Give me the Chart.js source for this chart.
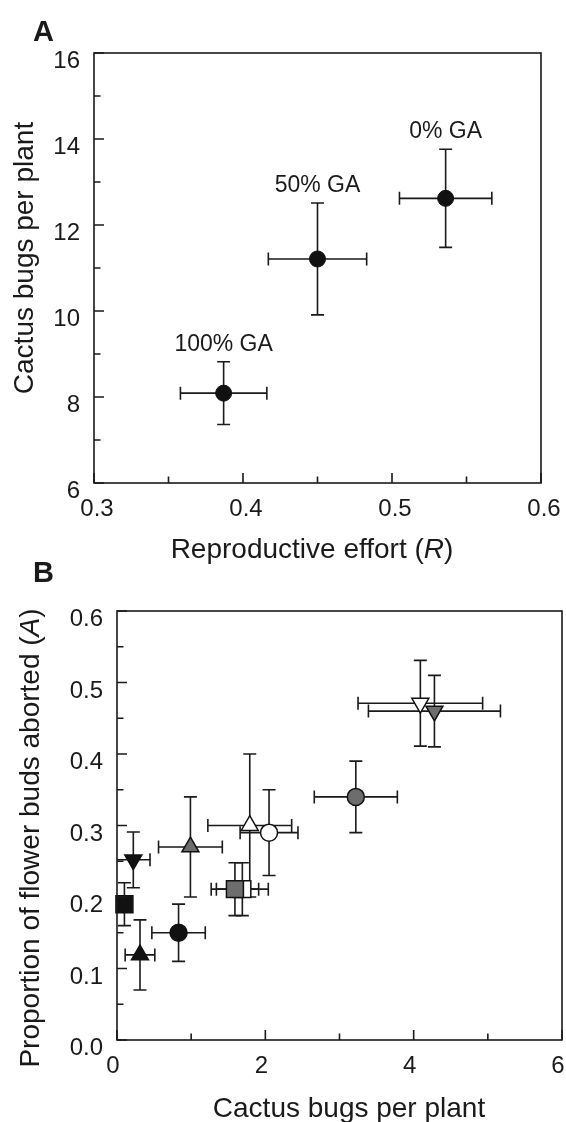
<!DOCTYPE html>
<html>
<head>
<meta charset="utf-8">
<script src="https://cdn.jsdelivr.net/npm/chart.js@4.4.1/dist/chart.umd.min.js"></script>
<style>
body{margin:0;background:#fff;}
canvas{position:absolute;left:0;}
#chartA{top:0;}
#chartB{top:560px;}
</style>
</head>
<body>
<canvas id="chartA" width="566" height="580"></canvas>
<canvas id="chartB" width="566" height="562"></canvas>
<script>
// ---- panel A data ----
const treatments=["0% GA","50% GA","100% GA"];
const effortR=[0.536,0.450,0.387];
const effortErr=[0.031,0.033,0.029];
const bugsA=[12.62,11.21,8.09];
const bugsAErr=[1.14,1.30,0.73];
const xTicksA=[0.3,0.4,0.5,0.6];
const xMinorA=[0.35,0.45,0.55];
const yTicksA=[6,8,10,12,14,16];
const yMinorA=[7,9,11,13,15];

// ---- panel B data ----
// first listed = drawn on top
const groups=["openDown","grayDown","grayCircle","openUp","openCircle","grayUp","graySquare","openSquare","blackDown","blackSquare","blackCircle","blackUp"];
const bugsB=[4.09,4.28,3.22,1.79,2.05,0.99,1.59,1.69,0.22,0.10,0.83,0.31];
const bugsBErr=[0.84,0.89,0.56,0.565,0.39,0.43,0.32,0.35,0.225,0,0.36,0.20];
const abortedB=[0.471,0.460,0.340,0.300,0.290,0.270,0.211,0.211,0.252,0.190,0.150,0.119];
const abortedErr=[0.060,0.050,0.050,0.100,0.060,0.070,0.037,0.037,0.039,0.030,0.040,0.049];
const xTicksB=[0,2,4,6];
const xMinorB=[1,3,5];
const yTicksB=[0,0.1,0.2,0.3,0.4,0.5,0.6];
const yMinorB=[0.05,0.15,0.25,0.35,0.45,0.55];

// marker looks for panel B
const BLACK="#111",GRAY="#6d6d6d",WHITE="#fff";
const markStyle={
openDown:["triangle",180,WHITE],
grayDown:["triangle",180,GRAY],
grayCircle:["circle",0,GRAY],
openUp:["triangle",0,WHITE],
openCircle:["circle",0,WHITE],
grayUp:["triangle",0,GRAY],
openSquare:["rect",0,WHITE],
graySquare:["rect",0,GRAY],
blackDown:["triangle",180,BLACK],
blackSquare:["rect",0,BLACK],
blackCircle:["circle",0,BLACK],
blackUp:["triangle",0,BLACK]
};
const markRadius={circle:8.5,triangle:9.8,rect:12};

const FONT='"Liberation Sans", Arial, Helvetica, sans-serif';
const INK="#1a1a1a";

function richText(ctx,parts,x,y,size,rot){
ctx.save();
ctx.translate(x,y);
ctx.rotate(rot);
ctx.textBaseline="alphabetic";
ctx.fillStyle=INK;
let total=0;
parts.forEach(p=>{ctx.font=(p.it?"italic ":"")+size+"px "+FONT;total+=ctx.measureText(p.t).width;});
let cx=-total/2;
parts.forEach(p=>{
ctx.font=(p.it?"italic ":"")+size+"px "+FONT;
ctx.textAlign="left";
ctx.fillText(p.t,cx,0);
cx+=ctx.measureText(p.t).width;
});
ctx.restore();
}

const framePlugin={
id:"frame",
beforeDatasetsDraw(chart,args,o){
const {ctx,scales:{x,y}}=chart;
ctx.save();
ctx.strokeStyle=INK;
ctx.lineWidth=1.6;
chart.data.datasets.forEach(ds=>{
ds.data.forEach(p=>{
const px=x.getPixelForValue(p.x),py=y.getPixelForValue(p.y);
const cap=6.5;
if(p.yErr){
const t=y.getPixelForValue(p.y+p.yErr),b=y.getPixelForValue(p.y-p.yErr);
ctx.beginPath();
ctx.moveTo(px,t);ctx.lineTo(px,b);
ctx.moveTo(px-cap,t);ctx.lineTo(px+cap,t);
ctx.moveTo(px-cap,b);ctx.lineTo(px+cap,b);
ctx.stroke();
}
if(p.xErr){
const l=x.getPixelForValue(Math.max(x.min,p.x-p.xErr)),r=x.getPixelForValue(p.x+p.xErr);
ctx.beginPath();
ctx.moveTo(l,py);ctx.lineTo(r,py);
if(p.x-p.xErr>x.min){ctx.moveTo(l,py-cap);ctx.lineTo(l,py+cap);}
ctx.moveTo(r,py-cap);ctx.lineTo(r,py+cap);
ctx.stroke();
}
});
});
ctx.restore();
},
afterDraw(chart,args,o){
const {ctx,chartArea:a,scales:{x,y}}=chart;
ctx.save();
ctx.strokeStyle=INK;
ctx.lineWidth=1.6;
ctx.strokeRect(a.left,a.top,a.right-a.left,a.bottom-a.top);
ctx.beginPath();
o.majorX.forEach(v=>{const p=x.getPixelForValue(v);ctx.moveTo(p,a.bottom);ctx.lineTo(p,a.bottom-10);});
o.minorX.forEach(v=>{const p=x.getPixelForValue(v);ctx.moveTo(p,a.bottom);ctx.lineTo(p,a.bottom-6.5);});
o.majorY.forEach(v=>{const p=y.getPixelForValue(v);ctx.moveTo(a.left,p);ctx.lineTo(a.left+10,p);});
o.minorY.forEach(v=>{const p=y.getPixelForValue(v);ctx.moveTo(a.left,p);ctx.lineTo(a.left+6.5,p);});
ctx.stroke();
// panel letter
ctx.fillStyle=INK;
ctx.font="bold 29px "+FONT;
ctx.textAlign="left";
ctx.textBaseline="alphabetic";
ctx.fillText(o.letter,o.letterPos[0],o.letterPos[1]);
ctx.restore();
richText(ctx,o.xTitle,o.xTitlePos[0],o.xTitlePos[1],28,0);
richText(ctx,o.yTitle,o.yTitlePos[0],o.yTitlePos[1],28,-Math.PI/2);
// point labels
if(o.pointLabels){
ctx.save();
ctx.fillStyle=INK;
ctx.font="23px "+FONT;
ctx.textAlign="center";
ctx.textBaseline="alphabetic";
chart.data.datasets[0].data.forEach((p,i)=>{
ctx.fillText(o.pointLabels[i],x.getPixelForValue(p.x),y.getPixelForValue(p.y+p.yErr)-11);
});
ctx.restore();
}
}
};

function axisX(min,max,ticks,fmt,h,shift){
return {
type:"linear",min:min,max:max,
grid:{display:false,drawTicks:false},
border:{display:false},
ticks:{padding:12,labelOffset:shift,color:INK,font:{family:FONT,size:24},callback:v=>fmt(v)},
afterBuildTicks:s=>{s.ticks=ticks.map(v=>({value:v}));},
afterFit:s=>{s.height=h;s.paddingLeft=0;s.paddingRight=0;}
};
}
function axisY(min,max,ticks,fmt,w){
return {
type:"linear",min:min,max:max,
grid:{display:false,drawTicks:false},
border:{display:false},
ticks:{padding:14,labelOffset:8.5,color:INK,font:{family:FONT,size:24},callback:v=>fmt(v)},
afterBuildTicks:s=>{s.ticks=ticks.map(v=>({value:v}));},
afterFit:s=>{s.width=w;s.paddingTop=0;s.paddingBottom=0;}
};
}

// ---- panel A ----
new Chart(document.getElementById("chartA"),{
type:"scatter",
data:{
datasets:[{
data:effortR.map((v,i)=>({x:v,y:bugsA[i],xErr:effortErr[i],yErr:bugsAErr[i]})),
pointStyle:"circle",
pointRadius:8,
backgroundColor:BLACK,
borderColor:BLACK,
borderWidth:1,
clip:false
}]
},
options:{
responsive:false,
animation:false,
events:[],
layout:{autoPadding:false,padding:{left:0,top:53,right:25,bottom:0}},
plugins:{
legend:{display:false},
tooltip:{enabled:false},
frame:{
majorX:xTicksA,minorX:xMinorA,majorY:yTicksA,minorY:yMinorA,
letter:"A",letterPos:[33,41],
xTitle:[{t:"Reproductive effort ("},{t:"R",it:true},{t:")"}],xTitlePos:[312,558],
yTitle:[{t:"Cactus bugs per plant"}],yTitlePos:[33,258],
pointLabels:treatments
}
},
scales:{
x:axisX(0.3,0.6,xTicksA,v=>v.toFixed(1),97,3),
y:axisY(6,16,yTicksA,v=>String(v),94)
}
},
plugins:[framePlugin]
});

// ---- panel B ----
new Chart(document.getElementById("chartB"),{
type:"scatter",
data:{
datasets:groups.map((g,i)=>{
const st=markStyle[g];
return {
label:g,
data:[{x:bugsB[i],y:abortedB[i],xErr:bugsBErr[i],yErr:abortedErr[i]}],
pointStyle:st[0],
rotation:st[1],
pointRadius:markRadius[st[0]],
backgroundColor:st[2],
borderColor:BLACK,
borderWidth:1.5,
clip:false
};
})
},
options:{
responsive:false,
animation:false,
events:[],
layout:{autoPadding:false,padding:{left:0,top:51,right:4,bottom:0}},
plugins:{
legend:{display:false},
tooltip:{enabled:false},
frame:{
majorX:xTicksB,minorX:xMinorB,majorY:yTicksB,minorY:yMinorB,
letter:"B",letterPos:[33,22],
xTitle:[{t:"Cactus bugs per plant"}],xTitlePos:[349,557],
yTitle:[{t:"Proportion of flower buds aborted ("},{t:"A",it:true},{t:")"}],yTitlePos:[39,278]
}
},
scales:{
x:axisX(0,6,xTicksB,v=>String(v),82,-4),
y:axisY(0,0.6,yTicksB,v=>v.toFixed(1),117)
}
},
plugins:[framePlugin]
});
</script>
</body>
</html>
